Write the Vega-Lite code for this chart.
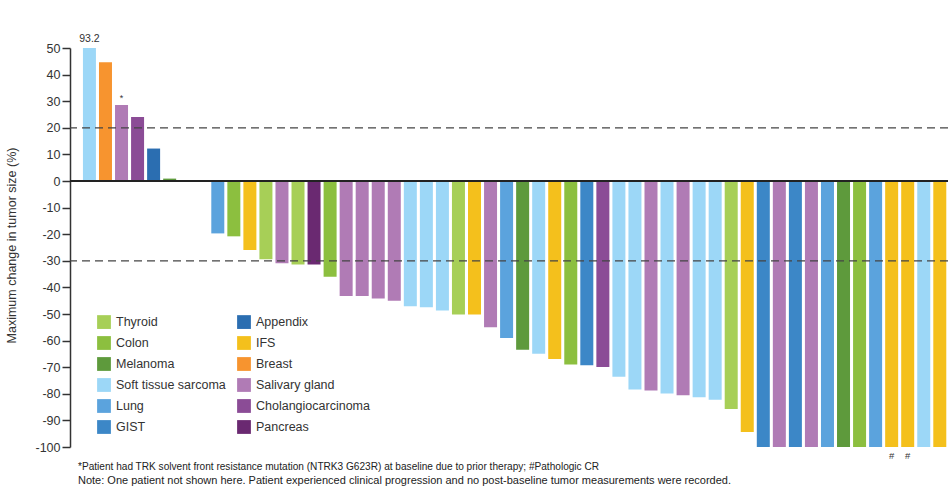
{
  "$schema": "https://vega.github.io/schema/vega-lite/v6.json",
  "width": 878,
  "height": 399,
  "autosize": {"type": "none"},
  "padding": {"left": 70, "top": 48, "right": 0, "bottom": 42},
  "background": "white",
  "config": {
    "view": {"stroke": null},
    "font": "Liberation Sans",
    "axis": {"labelFont": "Liberation Sans", "titleFont": "Liberation Sans"},
    "legend": {"labelFont": "Liberation Sans"}
  },
  "title": {
    "text": "*Patient had TRK solvent front resistance mutation (NTRK3 G623R) at baseline due to prior therapy; #Pathologic CR",
    "subtitle": "Note: One patient not shown here. Patient experienced clinical progression and no post-baseline tumor measurements were recorded.",
    "orient": "bottom",
    "anchor": "start",
    "frame": "group",
    "dx": 8,
    "offset": 1,
    "fontSize": 10.1,
    "fontWeight": "normal",
    "color": "#222",
    "subtitleFontSize": 11,
    "subtitleColor": "#222",
    "subtitlePadding": 3
  },
  "data": {
    "values": [
      {"patient": 1, "type": "Soft tissue sarcoma", "change": 93.2},
      {"patient": 2, "type": "Breast", "change": 44.6},
      {"patient": 3, "type": "Salivary gland", "change": 28.6, "note": "*"},
      {"patient": 4, "type": "Cholangiocarcinoma", "change": 24.1},
      {"patient": 5, "type": "Appendix", "change": 12.2},
      {"patient": 6, "type": "Melanoma", "change": 0.9},
      {"patient": 9, "type": "Lung", "change": -19.7},
      {"patient": 10, "type": "Colon", "change": -20.8},
      {"patient": 11, "type": "IFS", "change": -25.9},
      {"patient": 12, "type": "Thyroid", "change": -29.4},
      {"patient": 13, "type": "Salivary gland", "change": -30.9},
      {"patient": 14, "type": "Thyroid", "change": -31.4},
      {"patient": 15, "type": "Pancreas", "change": -31.4},
      {"patient": 16, "type": "Colon", "change": -36.0},
      {"patient": 17, "type": "Salivary gland", "change": -43.2},
      {"patient": 18, "type": "Salivary gland", "change": -43.2},
      {"patient": 19, "type": "Salivary gland", "change": -44.2},
      {"patient": 20, "type": "Salivary gland", "change": -45.0},
      {"patient": 21, "type": "Soft tissue sarcoma", "change": -47.1},
      {"patient": 22, "type": "Soft tissue sarcoma", "change": -47.5},
      {"patient": 23, "type": "Soft tissue sarcoma", "change": -48.7},
      {"patient": 24, "type": "Thyroid", "change": -50.2},
      {"patient": 25, "type": "IFS", "change": -50.2},
      {"patient": 26, "type": "Salivary gland", "change": -55.0},
      {"patient": 27, "type": "Lung", "change": -59.0},
      {"patient": 28, "type": "Melanoma", "change": -63.4},
      {"patient": 29, "type": "Soft tissue sarcoma", "change": -64.9},
      {"patient": 30, "type": "IFS", "change": -66.9},
      {"patient": 31, "type": "Colon", "change": -69.0},
      {"patient": 32, "type": "GIST", "change": -69.3},
      {"patient": 33, "type": "Cholangiocarcinoma", "change": -69.9},
      {"patient": 34, "type": "Soft tissue sarcoma", "change": -73.6},
      {"patient": 35, "type": "Soft tissue sarcoma", "change": -78.4},
      {"patient": 36, "type": "Salivary gland", "change": -78.8},
      {"patient": 37, "type": "Soft tissue sarcoma", "change": -79.9},
      {"patient": 38, "type": "Salivary gland", "change": -80.5},
      {"patient": 39, "type": "Soft tissue sarcoma", "change": -81.3},
      {"patient": 40, "type": "Soft tissue sarcoma", "change": -82.2},
      {"patient": 41, "type": "Thyroid", "change": -85.7},
      {"patient": 42, "type": "IFS", "change": -94.4},
      {"patient": 43, "type": "GIST", "change": -100},
      {"patient": 44, "type": "Salivary gland", "change": -100},
      {"patient": 45, "type": "GIST", "change": -100},
      {"patient": 46, "type": "Salivary gland", "change": -100},
      {"patient": 47, "type": "Lung", "change": -100},
      {"patient": 48, "type": "Melanoma", "change": -100},
      {"patient": 49, "type": "Colon", "change": -100},
      {"patient": 50, "type": "Lung", "change": -100},
      {"patient": 51, "type": "IFS", "change": -100, "note": "#"},
      {"patient": 52, "type": "IFS", "change": -100, "note": "#"},
      {"patient": 53, "type": "Soft tissue sarcoma", "change": -100},
      {"patient": 54, "type": "IFS", "change": -100}
    ]
  },
  "encoding": {
    "x": {
      "field": "patient",
      "type": "quantitative",
      "scale": {"domain": [0.1, 54.2], "nice": false, "zero": false},
      "axis": null
    },
    "y": {
      "field": "change",
      "type": "quantitative",
      "scale": {"domain": [-100, 50], "nice": false, "clamp": true},
      "axis": {
        "title": "Maximum change in tumor size (%)",
        "values": [50, 40, 30, 20, 10, 0, -10, -20, -30, -40, -50, -60, -70, -80, -90, -100],
        "labelExpr": "datum.value < 0 ? '-' + abs(datum.value) : '' + datum.value",
        "grid": false,
        "domainColor": "#333",
        "domainWidth": 1.5,
        "tickColor": "#333",
        "tickWidth": 1.5,
        "tickSize": 8,
        "labelPadding": 2,
        "labelFontSize": 12.5,
        "labelColor": "#333",
        "titleFontSize": 12.5,
        "titleFontWeight": "normal",
        "titleColor": "#333",
        "titleX": -52,
        "titleY": 197
      }
    }
  },
  "layer": [
    {
      "mark": {"type": "bar", "size": 13, "clip": true},
      "encoding": {
        "color": {
          "field": "type",
          "type": "nominal",
          "scale": {
            "domain": ["Thyroid", "Colon", "Melanoma", "Soft tissue sarcoma", "Lung", "GIST", "Appendix", "IFS", "Breast", "Salivary gland", "Cholangiocarcinoma", "Pancreas"],
            "range": ["#a7cf57", "#8cbf3f", "#5e9a3c", "#9cd7f7", "#5ba3dd", "#3c87c7", "#2b6eb1", "#f4c01c", "#f7942f", "#b07bb5", "#8b4c96", "#6a2971"]
          },
          "legend": {
            "title": null,
            "orient": "none",
            "legendX": 27,
            "legendY": 267,
            "columns": 2,
            "symbolType": "square",
            "symbolSize": 190,
            "symbolStrokeWidth": 0,
            "labelFontSize": 12.5,
            "labelColor": "#333",
            "rowPadding": 7,
            "columnPadding": 11,
            "labelOffset": 5,
            "padding": 0
          }
        }
      }
    },
    {
      "data": {"values": [{"threshold": 20}, {"threshold": -30}]},
      "mark": {"type": "rule", "strokeDash": [8, 5], "color": "#444", "strokeWidth": 1.3},
      "encoding": {"x": null, "y": {"field": "threshold", "type": "quantitative"}}
    },
    {
      "data": {"values": [{"baseline": 0}]},
      "mark": {"type": "rule", "color": "#222", "strokeWidth": 2},
      "encoding": {"x": null, "y": {"field": "baseline", "type": "quantitative"}}
    },
    {
      "transform": [{"filter": "datum.change > 50"}],
      "mark": {"type": "text", "baseline": "alphabetic", "dy": -6, "fontSize": 10.5, "color": "#333"},
      "encoding": {"text": {"field": "change", "type": "quantitative", "format": ".1f"}}
    },
    {
      "transform": [{"filter": "datum.note === '*'"}],
      "mark": {"type": "text", "baseline": "bottom", "dy": -2, "fontSize": 9, "color": "#333"},
      "encoding": {"text": {"field": "note"}}
    },
    {
      "transform": [{"filter": "datum.note === '#'"}],
      "mark": {"type": "text", "baseline": "top", "dy": 4, "fontSize": 9.5, "color": "#333"},
      "encoding": {"text": {"field": "note"}}
    }
  ]
}
